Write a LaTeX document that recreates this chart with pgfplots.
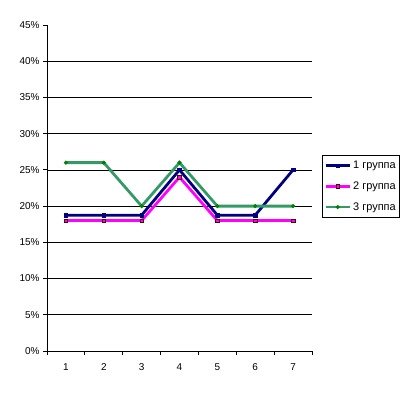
\documentclass[border=0pt]{standalone}
\usepackage{pgfplots}
\pgfplotsset{compat=1.18}
\usepackage{fontspec}
\setmainfont{Liberation Sans}
\definecolor{navyc}{HTML}{000080}
\definecolor{magc}{HTML}{FF00FF}
\definecolor{greenc}{HTML}{339966}
\definecolor{greenm}{HTML}{008000}
\begin{document}
\begin{tikzpicture}
\useasboundingbox (-47bp,-43bp) rectangle (371bp,351bp);
\begin{axis}[
  at={(0,0)}, anchor=south west,
  scale only axis, width=265bp, height=326bp,
  xmin=0.5, xmax=7.5, ymin=0, ymax=45,
  axis x line*=bottom, axis y line*=left,
  axis line style={black, line width=0.8pt, -},
  xtick={1,...,7},
  minor xtick={0.5,1.5,...,7.5},
  major x tick style={draw=none},
  minor x tick style={black, line width=0.8pt},
  minor tick length=4bp,
  ytick={0,5,...,40},
  extra y ticks={45},
  extra y tick style={grid=none},
  yticklabel={\pgfmathprintnumber{\tick}\%},
  ymajorgrids, grid style={black, line width=0.7pt},
  y tick style={black, line width=0.8pt},
  major tick length=4bp,
  tick align=outside,
  tick label style={font=\fontsize{10}{12}\selectfont},
  /pgf/number format/assume math mode=true,
  xticklabel style={yshift=-5bp},
  legend style={at={(1.0377,0.601)}, anchor=north west, draw=black, line width=0.6pt,
    font=\fontsize{11}{12}\selectfont, row sep=7.5bp, inner xsep=2bp, inner ysep=4bp},
  legend cell align=left,
  legend image code/.code={\draw[#1] (0cm,0cm) -- (0.85cm,0cm); \path[#1, mark repeat=1] plot coordinates {(0.425cm,0cm)};},
]
\addplot[navyc, line width=2.8pt, mark=square*, mark size=1.8pt, mark options={fill=navyc, draw=navyc, line width=0.5pt}]
  coordinates {(1,18.75) (2,18.75) (3,18.75) (4,25) (5,18.75) (6,18.75) (7,25)};
\addlegendentry{1 группа}
\addplot[magc, line width=2.8pt, mark=square*, mark size=1.8pt, mark options={fill=magc, draw=black!70!red, line width=0.5pt}]
  coordinates {(1,18) (2,18) (3,18) (4,24) (5,18) (6,18) (7,18)};
\addlegendentry{2 группа}
\addplot[greenc, line width=2.8pt, mark=*, mark size=1.8pt, mark options={fill=greenm, draw=greenm, line width=0.5pt}]
  coordinates {(1,26) (2,26) (3,20) (4,26) (5,20) (6,20) (7,20)};
\addlegendentry{3 группа}
\end{axis}
\end{tikzpicture}
\end{document}
